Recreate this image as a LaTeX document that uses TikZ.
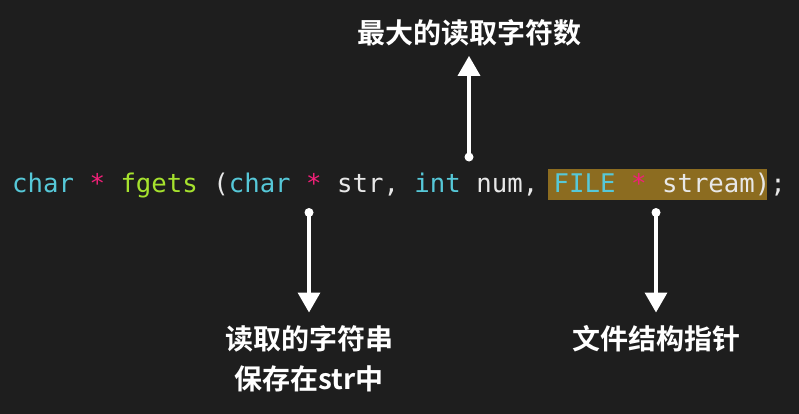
\documentclass[tikz,border=0pt]{standalone}
\usepackage{fontspec}
\setmonofont{DejaVu Sans Mono}
\newfontfamily\cjk{Noto Sans CJK SC}[BoldFont={Noto Sans CJK SC Bold}]
\usetikzlibrary{arrows.meta}

\definecolor{bgdark}{RGB}{30,30,30}
\definecolor{kwcyan}{RGB}{86,200,216}
\definecolor{fngreen}{RGB}{166,226,46}
\definecolor{oppink}{RGB}{240,32,120}
\definecolor{plainwhite}{RGB}{232,232,232}
\definecolor{hlbrown}{RGB}{140,108,32}

\newcommand{\kw}[1]{\textcolor{kwcyan}{#1}}
\newcommand{\fn}[1]{\textcolor{fngreen}{#1}}
\newcommand{\op}[1]{\textcolor{oppink}{#1}}

\tikzset{
  code/.style={anchor=base west,inner sep=0pt,text=plainwhite,
    font=\ttfamily\fontsize{25.7}{30}\selectfont},
  note/.style={inner sep=0pt,text=white,align=center,
    font=\cjk\bfseries\fontsize{28}{40}\selectfont},
  pointer/.style={draw=white,line width=3.5pt,
    -{Triangle[width=22pt,length=20pt]}},
  pin/.style={fill=white},
}

\begin{document}
\begin{tikzpicture}[x=1pt,y=-1pt]
    \fill[bgdark] (0,0) rectangle (799,414);
    \useasboundingbox (0,0) rectangle (799,414);

    % highlight of the last argument
    \fill[hlbrown] (548,168.5) rectangle (767,200);

    \node[code] (proto) at (12,192)
      {\kw{char} \op{*} \fn{fgets} (\kw{char} \op{*} str, \kw{int} num, \kw{FILE} \op{*} stream);};

    \coordinate (pnum) at (469,157);
    \coordinate (pstr) at (309,212.5);
    \coordinate (pstream) at (656,212.5);

    \node[note,anchor=base] (maxnum) at (469,44) {最大的读取字符数};
    \node[note,anchor=north] (strnote) at (309,325) {读取的字符串\\保存在str中};
    \node[note,anchor=north] (filenote) at (656,325) {文件结构指针};

    \draw[pointer,shorten >=9pt] (pnum) -- (pnum |- maxnum.south);
    \draw[pointer,shorten >=12.5pt] (pstr) -- (pstr |- strnote.north);
    \draw[pointer,shorten >=12.5pt] (pstream) -- (pstream |- filenote.north);

    \foreach \p in {pnum,pstr,pstream}
      \fill[pin] (\p) circle (4.5pt);
\end{tikzpicture}
\end{document}
